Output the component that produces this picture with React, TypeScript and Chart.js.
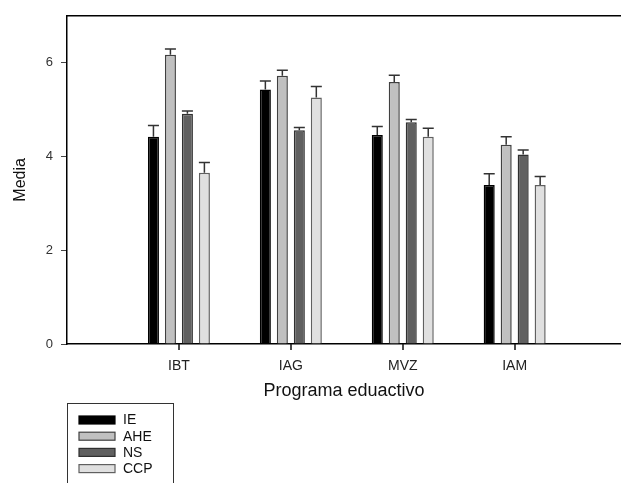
import React, { useEffect, useRef } from "react";
import { Chart, registerables } from "chart.js";

Chart.register(...registerables);

const categories = ["IBT", "IAG", "MVZ", "IAM"];
const seriesNames = ["IE", "AHE", "NS", "CCP"];
const ieValues = [4.42, 5.43, 4.46, 3.39];
const ieErrors = [0.24, 0.18, 0.18, 0.24];
const aheValues = [6.17, 5.72, 5.59, 4.25];
const aheErrors = [0.12, 0.12, 0.14, 0.17];
const nsValues = [4.91, 4.56, 4.73, 4.04];
const nsErrors = [0.06, 0.06, 0.06, 0.1];
const ccpValues = [3.65, 5.26, 4.42, 3.39];
const ccpErrors = [0.22, 0.23, 0.18, 0.18];
const yTicks = [0, 2, 4, 6];

const fills = ["#000000", "#c0c0c0", "#606060", "#e0e0e0"];
const borders = ["#000000", "#404040", "#303030", "#606060"];

const FONT = "'Liberation Sans', Arial, sans-serif";

const errorBarPlugin = {
  id: "errorBars",
  afterDatasetsDraw(chart: any) {
    const ctx = chart.ctx;
    const yScale = chart.scales.y;
    chart.data.datasets.forEach((ds: any, di: number) => {
      const meta = chart.getDatasetMeta(di);
      meta.data.forEach((bar: any, i: number) => {
        const v = ds.data[i].y;
        const e = ds.errors[i];
        const yTop = yScale.getPixelForValue(v + e);
        const half = bar.width / 2;
        ctx.save();
        ctx.strokeStyle = "#333333";
        ctx.lineWidth = 1.5;
        ctx.beginPath();
        ctx.moveTo(bar.x, bar.y);
        ctx.lineTo(bar.x, yTop);
        ctx.moveTo(bar.x - half, yTop);
        ctx.lineTo(bar.x + half, yTop);
        ctx.stroke();
        ctx.restore();
      });
    });
  },
};

const framePlugin = {
  id: "frame",
  afterDraw(chart: any) {
    const ctx = chart.ctx;
    const a = chart.chartArea;
    const xScale = chart.scales.x;
    ctx.save();
    ctx.strokeStyle = "#000000";
    ctx.lineWidth = 1.5;
    ctx.beginPath();
    ctx.moveTo(a.left, a.top);
    ctx.lineTo(a.right, a.top);
    ctx.stroke();

    // x tick marks
    ctx.strokeStyle = "#111111";
    ctx.lineWidth = 1.5;
    ctx.beginPath();
    categories.forEach((_, i) => {
      const px = Math.round(xScale.getPixelForValue(i + 1));
      ctx.moveTo(px, a.bottom);
      ctx.lineTo(px, a.bottom + 6);
    });
    ctx.stroke();

    // legend box
    const bx = 67;
    const by = 403;
    ctx.strokeStyle = "#333333";
    ctx.lineWidth = 1;
    ctx.strokeRect(bx + 0.5, by + 0.5, 106, 100);
    ctx.font = "14px " + FONT;
    ctx.textBaseline = "middle";
    ctx.textAlign = "left";
    chart.data.datasets.forEach((ds: any, i: number) => {
      const cy = 420 + i * 16.2;
      ctx.fillStyle = ds.backgroundColor;
      ctx.fillRect(79, cy - 4, 36, 8);
      ctx.strokeStyle = ds.borderColor;
      ctx.lineWidth = 1.2;
      ctx.strokeRect(79, cy - 4, 36, 8);
      ctx.fillStyle = "#111111";
      ctx.fillText(ds.label, 123, cy + 0.5);
    });
    ctx.restore();
  },
};

export default function App() {
  const ref = useRef<HTMLCanvasElement | null>(null);

  useEffect(() => {
    if (!ref.current) return;
    const allValues = [ieValues, aheValues, nsValues, ccpValues];
    const allErrors = [ieErrors, aheErrors, nsErrors, ccpErrors];
    const chart = new Chart(ref.current, {
      type: "bar",
      data: {
        datasets: seriesNames.map((name, si) => ({
          label: name,
          data: allValues[si].map((v, i) => ({ x: i + 1, y: v })),
          errors: allErrors[si],
          backgroundColor: fills[si],
          borderColor: borders[si],
          borderWidth: 1.5,
          categoryPercentage: 0.607,
          barPercentage: 0.65,
        })) as any,
      },
      options: {
        responsive: false,
        animation: false,
        layout: { padding: { top: 13, right: 0, left: 0, bottom: 0 } },
        plugins: {
          legend: { display: false },
          tooltip: { enabled: false },
        },
        scales: {
          x: {
            type: "linear",
            min: 0,
            max: 4.95,
            offset: false,
            afterBuildTicks: (axis: any) => {
              axis.ticks = categories.map((_, i) => ({ value: i + 1 }));
            },
            afterFit: (axis: any) => {
              axis.height = 139;
            },
            grid: {
              display: false,
              offset: false,
            },
            border: { display: true, color: "#000000", width: 1.5 },
            ticks: {
              autoSkip: false,
              maxRotation: 0,
              padding: 6,
              color: "#222222",
              font: { family: FONT, size: 14 },
              callback: (v: any) => categories[Number(v) - 1] ?? "",
            },
            title: {
              display: true,
              text: "Programa eduactivo",
              color: "#111111",
              font: { family: FONT, size: 18 },
              padding: { top: 0, bottom: 81 },
            },
          },
          y: {
            type: "linear",
            min: 0,
            max: 7,
            afterBuildTicks: (axis: any) => {
              axis.ticks = yTicks.map((v) => ({ value: v }));
            },
            afterFit: (axis: any) => {
              axis.width = 67;
            },
            grid: {
              drawOnChartArea: false,
              drawTicks: true,
              tickLength: 6,
              color: "#444444",
            },
            border: { display: true, color: "#000000", width: 1.5 },
            ticks: {
              padding: 8,
              color: "#333333",
              font: { family: FONT, size: 13 },
            },
            title: {
              display: true,
              text: "Media",
              color: "#111111",
              font: { family: FONT, size: 16 },
              padding: { top: 11, bottom: 0 },
            },
          },
        },
      },
      plugins: [errorBarPlugin, framePlugin],
    });
    return () => chart.destroy();
  }, []);

  return (
    <canvas
      ref={ref}
      width={621}
      height={483}
      style={{ position: "absolute", left: 0, top: 0, width: 621, height: 483 }}
    />
  );
}
